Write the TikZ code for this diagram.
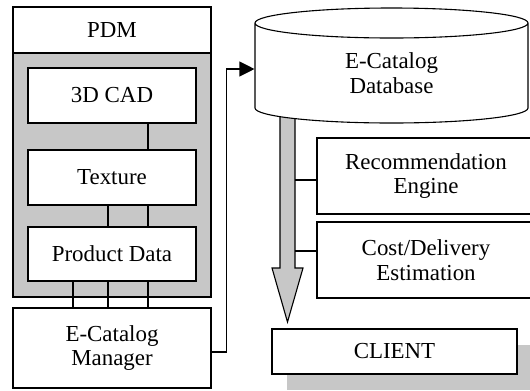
\documentclass[tikz,border=0pt]{standalone}
\usepackage{fontspec}
\setmainfont{Liberation Serif}
\usetikzlibrary{positioning,arrows.meta,shadows}
\definecolor{halftone}{gray}{0.78}

\begin{document}
\begin{tikzpicture}[x=1bp, y=-1bp,
  font=\fontsize{23}{25}\selectfont, line width=1.1bp,
  >={Triangle[length=15bp,width=15bp]},
  box/.style={draw, fill=white, align=center, inner sep=2bp},
  pdmbox/.style={box, minimum width=168bp, minimum height=55bp},
  sidebox/.style={box, minimum width=218bp, minimum height=76bp},
  panel/.style={draw, fill=halftone, minimum width=198bp, inner sep=0pt},
  rim/.style={x radius=136.5bp, y radius=15bp}]
\useasboundingbox (0,0) rectangle (530,390);

% PDM side
\node (body) [panel, minimum height=244bp] at (112,175) {};
\node (pdm) [box, minimum width=198bp, minimum height=46bp] at (112,30) {PDM};
\node (cad) [pdmbox] at (112,95.5) {3D CAD};
\node (tex) [pdmbox] at (112,177.5) {Texture};
\node (pdata) [pdmbox, minimum height=54bp] at (112,254) {Product Data};
\node (mgr) [box, minimum width=198bp, minimum height=80bp] at (112,348) {E-Catalog\\Manager};

\draw ([xshift=36bp]cad.south) -- ([xshift=36bp]tex.north);
\foreach \dx in {-4,36} \draw ([xshift=\dx bp]tex.south) -- ([xshift=\dx bp]pdata.north);
\foreach \dx in {-39,-4,36} \draw ([xshift=\dx bp]pdata.south) -- ([xshift=\dx bp]mgr.north);

% flow down to the client, then the database drum over its top
\coordinate (shaft) at (295,200);
\filldraw[fill=halftone] (280,112) -- (280,268) -- (272,268) -- (287.5,322)
  -- (303,268) -- (295,268) -- (295,112) -- cycle;
\filldraw[fill=white] (255,23) -- (255,108) arc[start angle=180, end angle=360, rim]
  -- (528,23) arc[start angle=0, end angle=360, rim];
\node (db) [align=center, minimum width=273bp, minimum height=100bp, inner sep=0pt]
  at (391.5,73) {E-Catalog\\Database};

\node (rec) [sidebox] at (426,176) {Recommendation\\Engine};
\node (cost) [sidebox] at (426,260) {Cost/Delivery\\Estimation};
\foreach \b/\dy in {rec/-4, cost/9}
  \draw ([yshift=\dy bp]\b.west) coordinate (tmp) -- (tmp -| shaft);

\node (client) [box, minimum width=245bp, minimum height=45bp,
  drop shadow={shadow xshift=15bp, shadow yshift=-16bp, fill=halftone, opacity=1}]
  at (394.5,351.5) {CLIENT};

\draw[->] ([yshift=-4bp]mgr.east) -- ++(15,0) |- ([yshift=4bp]db.west);
\end{tikzpicture}
\end{document}
